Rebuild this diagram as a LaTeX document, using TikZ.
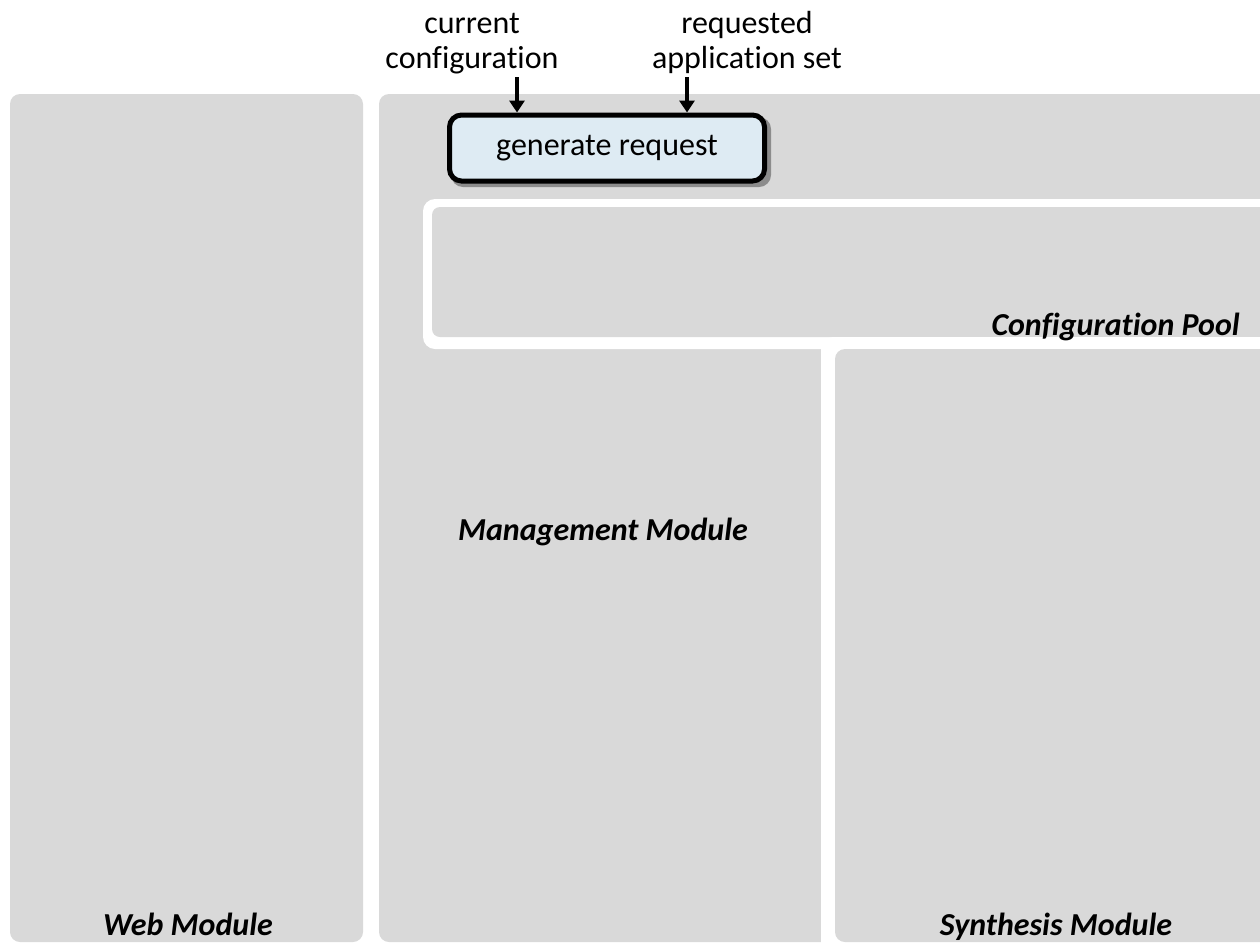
\documentclass[tikz,border=0pt]{standalone}
\usepackage{fontspec}
\setmainfont{Carlito}[RawFeature=-liga]
\usetikzlibrary{arrows.meta}
\definecolor{panelgray}{HTML}{D9D9D9}
\definecolor{boxblue}{HTML}{DEEBF3}
\definecolor{shadowgray}{HTML}{8C8C8C}
\tikzset{
  panel/.style={fill=panelgray, draw=none, rounded corners=10pt},
  rim/.style={fill=white, draw=none, rounded corners=12pt},
  modlabel/.style={font=\fontsize{32}{38}\selectfont\bfseries\itshape, inner sep=0pt},
  inlabel/.style={font=\fontsize{32}{35}\selectfont, align=center, inner sep=0pt},
  stepbox/.style={draw=black, line width=5pt, fill=boxblue, rounded corners=12pt,
    minimum width=315pt, minimum height=66pt, inner sep=0pt,
    font=\fontsize{32}{38}\selectfont},
  feed/.style={line width=3.5pt, -{Triangle[length=12pt,width=15pt]}}
}
\begin{document}
\begin{tikzpicture}[x=1pt,y=-1pt]
\useasboundingbox (0,0) rectangle (1260,943);
\clip (0,0) rectangle (1260,943);

% module panels
\fill[panel] (10,94) rectangle (363,942);
\fill[panel] (379,94) rectangle (1290,942);

% configuration pool with white rim
\fill[rim] (423,199) rectangle (1300,349);
\fill[panel, rounded corners=8pt] (432,207) rectangle (1300,337);

% synthesis module with white rim
\fill[rim] (821,337) rectangle (1300,990);
\fill[panel] (835,349) rectangle (1300,942);

% panel titles
\node[modlabel, anchor=base east] (pool) at (1240,335) {Configuration Pool};
\node[modlabel, anchor=base] (mgmt) at (603,540) {Management Module};
\node[modlabel, anchor=base] (web) at (188,935) {Web Module};
\node[modlabel, anchor=base] (synth) at (1056,935) {Synthesis Module};

% request step with drop shadow
\fill[shadowgray, rounded corners=12pt] (451,117) rectangle (771,187);
\node[stepbox] (gen) at (607,148) {generate request};

% inputs
\node[inlabel, anchor=base] (cur) at (472,68) {current\\configuration};
\node[inlabel, anchor=base] (req) at (747,68) {requested\\application set};
\coordinate (curin) at (517,77);
\coordinate (reqin) at (687,77);
\draw[feed] (curin) -- (curin |- gen.north);
\draw[feed] (reqin) -- (reqin |- gen.north);
\end{tikzpicture}
\end{document}
